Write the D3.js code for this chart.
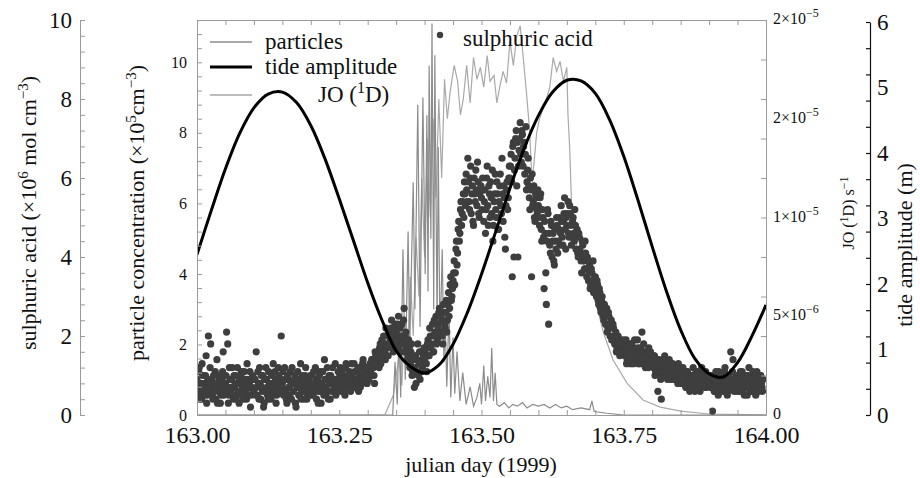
<!DOCTYPE html>
<html>
<head>
<meta charset="utf-8">
<script src="https://cdn.jsdelivr.net/npm/d3@7"></script>
<style>
body { margin: 0; background: #fff; }
svg, svg text { font-family: "Liberation Serif", "Times New Roman", serif; }
</style>
</head>
<body>
<div id="chart"></div>
<script>
// sulphuric acid (x10^6 mol cm^-3), samples every 0.001 day from 163.000,
// split in even samples (163.000, 163.002, ...) and odd samples (163.001, 163.003, ...)
var acidStart = 163, acidStep = 0.002;
var acidEven = [
  0.9,0.5,1.2,0.7,0.4,1.0,0.6,0.8,1.5,0.5,2.0,0.7,1.8,0.9,0.4,0.6,1.1,0.8,0.3,0.7,1.0,0.5,0.9,1.6,0.6,
  0.8,2.1,1.8,0.5,0.9,0.6,1.2,0.4,0.7,1.0,0.5,0.8,0.3,0.6,1.1,0.7,0.4,0.9,0.6,1.3,0.5,0.8,0.2,0.7,1.0,
  0.6,0.9,1.6,0.5,0.8,1.2,0.4,0.7,1.0,0.3,0.6,0.9,0.5,1.1,0.7,0.4,0.8,1.3,0.6,0.9,0.5,0.7,1.0,0.6,2.0,
  0.8,0.5,1.2,0.6,0.3,0.9,0.7,1.1,0.4,0.8,0.6,1.0,0.2,0.7,0.9,0.5,1.3,0.6,0.8,0.4,1.0,0.7,0.5,0.9,0.6,
  0.7,1.0,0.5,0.8,1.2,0.4,0.9,0.6,1.1,0.3,0.8,0.7,1.4,0.5,0.9,0.6,1.0,0.4,0.8,1.2,0.6,0.9,0.5,0.7,1.1,
  0.8,1.2,0.6,0.9,1.0,0.5,1.3,0.7,0.9,1.1,0.6,1.0,0.8,1.3,0.7,1.1,0.9,0.6,1.2,1.0,0.8,1.4,0.9,1.1,1.0,
  1.1,0.9,1.3,1.0,1.4,1.2,0.8,1.5,1.3,1.6,1.2,1.8,1.5,1.7,2.0,1.6,2.2,1.8,1.5,2.1,1.9,2.4,1.7,2.0,2.3,
  2.1,1.8,2.5,2.0,1.6,2.3,1.9,2.7,2.0,1.7,1.4,1.9,1.2,1.6,1.0,1.4,0.7,1.5,1.1,1.8,1.3,0.9,1.6,1.2,1.5,
  1.4,1.7,1.1,1.9,1.5,2.0,1.8,2.3,1.6,2.1,2.5,1.9,2.2,2.7,2.0,2.4,1.8,2.6,2.2,2.9,2.4,3.1,2.7,3.5,3.0,
  3.4,3.9,3.6,4.4,4.1,4.9,4.6,5.4,5.1,5.6,5.9,5.3,5.7,6.5,5.4,6.0,5.1,5.8,4.8,5.6,6.2,5.3,5.9,5.0,5.7,
  5.5,6.0,4.9,5.7,5.2,6.3,4.8,5.6,5.9,5.1,4.4,5.4,6.1,5.0,5.6,4.7,5.8,5.3,6.5,4.9,5.5,4.2,5.7,5.2,6.0,
  6.0,6.6,3.5,6.9,6.2,7.0,5.8,4.0,6.7,7.4,6.4,7.1,6.8,6.1,7.3,5.9,6.5,5.5,6.0,3.5,5.3,5.8,4.9,5.5,5.1,
  5.3,4.8,5.6,4.4,5.0,3.2,4.6,2.8,5.2,2.3,4.3,4.9,4.0,4.6,3.8,4.4,5.0,4.1,4.7,4.3,5.3,4.5,4.9,5.5,4.2,
  4.8,5.4,4.5,5.1,4.3,4.9,4.6,5.2,4.2,4.7,4.0,4.5,4.1,3.6,4.3,3.9,4.4,3.7,4.0,3.4,3.8,3.3,3.6,3.9,3.2,
  3.5,3.0,3.3,2.8,3.1,2.6,3.0,2.5,2.8,2.3,2.7,2.2,2.5,2.0,2.4,1.9,2.2,1.8,2.1,1.7,2.0,1.6,1.9,1.7,1.8,
  1.8,1.5,1.9,1.4,1.7,1.6,1.3,1.8,1.5,1.7,1.4,1.6,1.9,1.3,1.5,1.7,2.1,1.4,1.6,1.2,1.5,1.4,1.7,1.3,1.5,
  1.4,1.2,1.5,1.1,1.3,0.6,1.4,1.0,0.4,1.3,1.2,1.5,1.0,1.3,1.1,1.4,0.9,1.2,1.3,1.0,1.2,0.9,1.1,1.3,1.0,
  1.1,0.8,1.2,0.9,1.0,0.7,1.1,0.9,0.6,1.0,0.8,1.2,0.9,0.7,1.0,0.8,1.1,0.6,0.9,1.0,0.8,0.7,1.1,0.9,0.8,
  0.9,0.7,1.0,0.1,0.8,0.6,1.1,0.9,0.5,0.8,1.0,0.7,0.9,0.6,1.2,0.8,0.5,1.0,0.7,1.6,0.9,1.4,0.6,0.8,1.0,
  0.8,1.0,0.6,0.9,1.1,0.7,0.5,0.9,1.0,0.8,1.2,0.6,0.9,0.7,1.0,0.8,0.5,1.1,0.9,0.7,1.0,0.8,0.6
];
var acidOdd = [
  0.6,1.1,0.4,0.8,1.3,0.7,0.5,1.0,0.3,0.9,0.6,1.2,0.8,0.5,1.0,0.7,0.4,1.4,0.6,0.9,0.3,0.8,1.1,0.5,0.7,
  1.0,0.6,0.3,1.2,0.7,0.9,0.5,1.0,0.8,0.4,1.2,0.6,0.9,1.0,0.5,0.8,1.1,0.6,0.4,0.9,0.7,1.1,0.5,0.9,0.6,
  0.9,0.5,0.7,1.1,0.4,0.8,1.0,0.6,0.2,0.9,1.2,0.7,0.4,0.8,0.6,1.0,0.5,0.7,1.1,0.3,0.8,1.2,0.6,0.9,0.7,
  1.1,0.6,0.9,0.4,1.0,0.7,0.5,0.8,1.2,0.6,0.9,0.3,0.8,1.1,0.5,0.7,0.4,1.0,0.6,0.9,1.2,0.4,0.8,0.6,1.0,
  0.5,0.8,1.1,0.6,0.9,0.7,0.3,1.0,0.8,0.6,1.1,0.5,0.9,0.7,1.2,0.4,0.8,1.0,0.6,0.9,0.7,1.3,0.8,0.6,0.9,
  1.0,0.7,1.1,0.8,0.6,1.2,0.9,0.7,1.0,0.8,1.3,0.9,0.7,1.1,0.9,0.8,1.2,1.0,0.7,1.1,1.3,0.9,1.0,1.2,0.8,
  1.2,1.0,1.1,1.4,1.2,1.0,1.6,1.3,1.5,1.4,1.7,1.3,1.9,1.6,1.8,1.4,2.0,1.7,2.1,1.8,2.2,1.9,1.6,2.2,2.0,
  1.9,2.3,1.7,2.2,2.0,1.8,2.4,1.6,2.1,1.8,1.5,1.7,1.3,1.8,1.1,1.5,1.2,0.8,1.4,1.0,1.6,1.3,1.1,1.4,1.7,
  1.6,1.3,1.8,1.5,2.2,1.7,2.0,1.6,2.4,2.0,1.8,2.3,2.6,2.1,2.5,2.0,2.8,2.3,2.6,2.1,2.8,2.5,3.3,2.9,3.2,
  3.6,3.3,4.2,3.8,4.7,4.4,5.2,4.8,5.4,5.0,5.6,6.1,5.4,5.9,5.2,6.3,5.6,4.9,6.0,5.4,5.7,6.4,5.1,5.6,5.8,
  5.2,5.7,5.4,4.6,6.0,5.3,5.8,5.0,5.5,6.2,4.8,5.6,5.2,5.9,4.7,5.4,6.1,5.1,5.6,5.8,4.5,5.3,5.9,5.5,6.3,
  6.3,5.9,6.8,4.0,6.5,7.2,6.9,6.3,7.0,6.6,7.2,6.3,6.9,6.6,5.7,6.2,5.8,5.2,5.7,6.1,5.4,5.0,5.6,5.2,5.7,
  5.0,5.5,4.7,5.2,4.5,4.9,3.6,4.4,5.1,4.6,4.1,4.8,4.4,3.9,4.7,4.2,4.8,4.4,5.0,4.6,4.9,4.3,5.1,4.7,5.0,
  5.1,4.6,5.3,4.8,4.5,5.0,4.4,4.8,4.5,4.1,4.6,4.2,3.9,4.4,4.0,3.7,4.1,3.5,3.9,3.6,3.2,3.7,3.4,3.1,3.5,
  3.2,3.4,2.9,3.2,2.7,2.9,2.8,2.4,2.6,2.5,2.1,2.6,2.3,2.2,1.9,2.3,2.0,1.9,1.6,2.0,1.8,1.5,1.8,1.6,1.9,
  1.6,1.7,1.3,1.6,1.5,1.8,1.4,1.6,1.3,1.9,1.5,1.4,1.7,1.6,1.3,1.5,1.4,1.8,1.3,1.5,1.6,1.2,1.4,1.6,1.3,
  1.3,1.5,1.0,1.2,1.4,1.1,1.3,0.9,1.2,1.4,1.0,1.1,1.3,0.9,1.2,1.0,1.3,1.1,0.9,1.2,1.0,1.1,0.8,1.2,1.0,
  0.9,1.1,0.8,1.0,0.7,1.1,0.9,0.8,1.0,0.7,1.0,0.9,0.6,1.1,0.8,1.0,0.7,0.9,1.2,0.8,1.0,0.9,0.7,1.0,0.8,
  0.8,1.0,0.7,0.9,0.6,1.0,0.8,0.7,1.1,0.9,0.6,1.0,0.8,1.1,0.7,0.9,0.6,1.0,0.8,0.9,1.1,0.7,0.9,0.8,0.6,
  0.9,0.7,1.1,0.8,0.6,1.0,0.9,0.7,0.5,1.0,0.8,0.9,0.6,1.1,0.8,0.7,1.0,0.9,0.6,0.8,1.0,0.7,0.9
];

// particle concentration (x10^5 cm^-3)
var partDay = [163.000,163.344,163.348,163.352,163.355,163.358,163.362,163.366,163.371,163.374,
  163.380,163.383,163.388,163.392,163.397,163.401,163.404,163.406,163.408,163.411,
  163.413,163.416,163.418,163.422,163.424,163.427,163.431,163.434,163.436,163.439,
  163.443,163.446,163.450,163.453,163.457,163.462,163.467,163.473,163.480,163.486,
  163.492,163.497,163.500,163.504,163.507,163.511,163.515,163.518,163.521,163.524,
  163.527,163.532,163.540,163.548,163.555,163.563,163.572,163.580,163.590,163.600,
  163.610,163.620,163.630,163.640,163.650,163.660,163.675,163.690,163.694,163.698,
  163.720,163.750,164.000];
var partVal = [0,0,1.5,0.3,2.5,0.5,4.7,1.0,5.2,2.0,
  6.6,3.0,8.8,2.5,9.0,4.0,8.5,3.5,9.9,5.0,
  11.1,3.0,10.2,2.5,7.6,2.0,4.7,1.5,2.8,0.8,
  3.0,0.5,2.2,0.6,1.8,0.4,1.2,0.3,0.8,0.25,
  0.5,0.9,0.3,1.4,0.4,1.1,0.5,1.9,0.4,1.2,
  0.3,0.25,0.35,0.2,0.3,0.25,0.35,0.2,0.3,0.25,
  0.3,0.2,0.3,0.2,0.25,0.15,0.2,0.15,0.4,0.1,
  0.05,0,0];

// JO(1D) photolysis rate (x10^-5 s^-1)
var joDay = [163.0,163.33,163.345,163.355,163.36,163.365,163.37,163.375,163.38,163.385,
  163.39,163.395,163.40,163.405,163.41,163.415,163.42,163.425,163.43,163.435,
  163.44,163.445,163.452,163.458,163.463,163.468,163.474,163.48,163.486,163.492,
  163.498,163.504,163.51,163.515,163.522,163.527,163.532,163.538,163.544,163.55,
  163.556,163.562,163.568,163.573,163.58,163.584,163.589,163.593,163.597,163.602,
  163.608,163.614,163.62,163.626,163.632,163.638,163.644,163.65,163.652,163.655,
  163.659,163.664,163.68,163.696,163.714,163.731,163.756,163.784,163.814,163.85,
  163.9,164.0];
var joVal = [0,0,0.1,0.3,0.15,0.5,0.3,0.7,0.4,0.9,
  0.6,1.2,0.8,1.4,1.0,1.5,1.1,1.6,1.2,1.7,
  1.5,1.64,1.77,1.69,1.52,1.6,1.77,1.58,1.81,1.7,
  1.76,1.66,1.82,1.69,1.72,1.58,1.66,1.74,1.68,1.89,
  1.77,1.92,1.97,1.82,1.6,1.46,1.18,1.3,1.43,1.5,
  1.55,1.6,1.66,1.81,1.74,1.79,1.69,1.76,1.52,1.35,
  1.01,0.89,0.76,0.63,0.42,0.28,0.16,0.076,0.04,0.02,
  0.005,0];

// tide amplitude (m), every 0.025 day from 163.000
var tideStart = 163, tideStep = 0.025;
var tideVals = [2.45,3.12,3.76,4.30,4.69,4.90,4.93,4.77,4.42,3.91,
  3.30,2.66,2.02,1.45,0.98,0.74,0.64,0.76,1.08,1.56,
  2.15,2.80,3.46,4.07,4.57,4.93,5.11,5.10,4.91,4.51,
  3.95,3.28,2.57,1.89,1.30,0.86,0.63,0.58,0.80,1.20,1.68];

var dayTicks = [163, 163.25, 163.5, 163.75, 164];
var acidTicks = [0, 2, 4, 6, 8, 10];
var partTicks = [0, 2, 4, 6, 8, 10];
var tideTicks = [0, 1, 2, 3, 4, 5, 6];
var joTicks = [0, 0.5, 1, 1.5, 2];
var joTickLabels = [["0", ""], ["5\u00d710", "\u22126"], ["1\u00d710", "\u22125"], ["2\u00d710", "\u22125"], ["2\u00d710", "\u22125"]];

var FONT = "'Liberation Serif', 'Times New Roman', serif";
var width = 920, height = 478;
var frame = { left: 197, right: 766, top: 20, bottom: 415 };

var svg = d3.select("#chart").append("svg")
    .attr("width", width)
    .attr("height", height);

var x = d3.scaleLinear().domain([163, 164]).range([frame.left, frame.right]);
var yAcid = d3.scaleLinear().domain([0, 10]).range([frame.bottom, frame.top]);
var yPart = d3.scaleLinear().domain([0, 11.2]).range([frame.bottom, frame.top]);
var yJO = d3.scaleLinear().domain([0, 2]).range([frame.bottom, frame.top]);
var yTide = d3.scaleLinear().domain([0, 6]).range([frame.bottom, 22]);

svg.append("clipPath").attr("id", "clip")
  .append("rect")
    .attr("x", frame.left).attr("y", frame.top)
    .attr("width", frame.right - frame.left)
    .attr("height", frame.bottom - frame.top);

var plot = svg.append("g").attr("clip-path", "url(#clip)");

// JO(1D) line
plot.append("path")
    .datum(d3.zip(joDay, joVal))
    .attr("fill", "none")
    .attr("stroke", "#a9a9a9")
    .attr("stroke-width", 1.2)
    .attr("d", d3.line()
        .x(function(d) { return x(d[0]); })
        .y(function(d) { return yJO(d[1]); }));

// particles line
plot.append("path")
    .datum(d3.zip(partDay, partVal))
    .attr("fill", "none")
    .attr("stroke", "#8c8c8c")
    .attr("stroke-width", 1.2)
    .attr("d", d3.line()
        .x(function(d) { return x(d[0]); })
        .y(function(d) { return yPart(d[1]); }));

// sulphuric acid dots
var acidPts = [];
acidEven.forEach(function(v, i) { acidPts.push([acidStart + i * acidStep, v]); });
acidOdd.forEach(function(v, i) { acidPts.push([acidStart + acidStep / 2 + i * acidStep, v]); });

plot.selectAll("circle.acid")
    .data(acidPts)
    .enter().append("circle")
    .attr("class", "acid")
    .attr("cx", function(d) { return x(d[0]); })
    .attr("cy", function(d) { return yAcid(d[1]); })
    .attr("r", 3.6)
    .attr("fill", "#3e3e3e");

// tide line
plot.append("path")
    .datum(tideVals)
    .attr("fill", "none")
    .attr("stroke", "#000")
    .attr("stroke-width", 3)
    .attr("d", d3.line()
        .curve(d3.curveCatmullRom)
        .x(function(d, i) { return x(tideStart + i * tideStep); })
        .y(function(d) { return yTide(d); }));

// frame with inward minor ticks
var frameColor = "#9a9a9a";
function styleAxis(g) {
  g.selectAll("path, line").attr("stroke", frameColor);
  g.selectAll("text").remove();
}
svg.append("g")
    .attr("transform", "translate(0," + frame.bottom + ")")
    .call(d3.axisTop(x).tickValues(d3.range(163, 164.001, 0.05)).tickSize(5).tickSizeOuter(0))
    .call(styleAxis);
svg.append("g")
    .attr("transform", "translate(0," + frame.top + ")")
    .call(d3.axisBottom(x).tickValues(d3.range(163, 164.001, 0.05)).tickSize(5).tickSizeOuter(0))
    .call(styleAxis);
svg.append("g")
    .attr("transform", "translate(" + frame.left + ",0)")
    .call(d3.axisRight(yPart).tickValues(d3.range(0, 11.21, 0.4)).tickSize(5).tickSizeOuter(0))
    .call(styleAxis);
svg.append("g")
    .attr("transform", "translate(" + frame.right + ",0)")
    .call(d3.axisLeft(yJO).tickValues(d3.range(0, 2.01, 0.2)).tickSize(5).tickSizeOuter(0))
    .call(styleAxis);

// sulphuric acid axis on far left
svg.append("g")
    .attr("transform", "translate(80,0)")
    .call(d3.axisRight(yAcid).tickValues(d3.range(0, 10.01, 0.4)).tickSize(5).tickSizeOuter(0))
    .call(styleAxis);

// tide axis on far right
var tideAxis = svg.append("g")
    .attr("transform", "translate(870,0)")
    .call(d3.axisLeft(yTide).tickValues(d3.range(0, 6.01, 0.4)).tickSize(4).tickSizeOuter(0));
tideAxis.selectAll("path, line").attr("stroke", "#111").attr("stroke-width", 1.2);
tideAxis.selectAll("text").remove();

// tick labels
function labelAxis(axis, pos, size) {
  svg.append("g")
      .attr("transform", pos)
      .call(axis.tickSize(0))
      .call(function(g) {
        g.attr("font-family", FONT);
        g.select(".domain").remove();
        g.selectAll("text")
            .style("font-family", FONT)
            .attr("font-size", size)
            .attr("fill", "#111");
      });
}
labelAxis(d3.axisBottom(x).tickValues(dayTicks).tickFormat(d3.format(".2f")).tickPadding(11),
  "translate(0," + frame.bottom + ")", 24);
labelAxis(d3.axisLeft(yAcid).tickValues(acidTicks).tickFormat(d3.format("d")).tickPadding(8), "translate(80,0)", 23);
labelAxis(d3.axisLeft(yPart).tickValues(partTicks).tickFormat(d3.format("d")).tickPadding(10), "translate(" + frame.left + ",0)", 16);
labelAxis(d3.axisRight(yTide).tickValues(tideTicks).tickFormat(d3.format("d")).tickPadding(7), "translate(870,0)", 23);

// JO tick labels with exponents
joTicks.forEach(function(v, i) {
  var t = svg.append("text")
      .attr("x", frame.right + 7)
      .attr("y", yJO(v) + 4)
      .style("font-family", FONT)
      .attr("font-size", 16)
      .attr("fill", "#111");
  t.append("tspan").text(joTickLabels[i][0]);
  if (joTickLabels[i][1]) {
    t.append("tspan").attr("dy", -7).attr("font-size", 12).text(joTickLabels[i][1]);
  }
});

// text with superscripts: parts = [[text, isSup]]
function richText(sel, parts, supSize, shift) {
  var up = false;
  parts.forEach(function(p) {
    var ts = sel.append("tspan").text(p[0]);
    if (p[1] && !up) { ts.attr("dy", -shift).attr("font-size", supSize); up = true; }
    else if (p[1]) { ts.attr("font-size", supSize); }
    else if (up) { ts.attr("dy", shift); up = false; }
  });
}

function vTitle(cx, cy, size, parts, supSize, shift) {
  var t = svg.append("text")
      .attr("transform", "translate(" + cx + "," + cy + ") rotate(-90)")
      .attr("text-anchor", "middle")
      .style("font-family", FONT)
      .attr("font-size", size)
      .attr("fill", "#111");
  richText(t, parts, supSize, shift);
}

vTitle(36, 213, 22, [["sulphuric acid (\u00d710", 0], ["6", 1], [" mol cm", 0], ["\u22123", 1], [")", 0]], 15, 8);
vTitle(144, 213, 22, [["particle concentration (\u00d710", 0], ["5", 1], ["cm", 0], ["\u22123", 1], [")", 0]], 15, 8);
vTitle(854, 213, 16, [["JO (", 0], ["1", 1], ["D) s", 0], ["\u22121", 1]], 12, 6);
vTitle(912, 245, 22, [["tide amplitude (m)", 0]], 15, 8);

svg.append("text")
    .attr("x", 481)
    .attr("y", 472)
    .attr("text-anchor", "middle")
    .style("font-family", FONT)
    .attr("font-size", 22)
    .attr("fill", "#111")
    .text("julian day (1999)");

// legend
var legendRows = [
  { label: [["particles", 0]], color: "#8c8c8c", w: 1.5, y: 42, tx: 265 },
  { label: [["tide amplitude", 0]], color: "#000", w: 3, y: 67, tx: 265 },
  { label: [["JO (", 0], ["1", 1], ["D)", 0]], color: "#a9a9a9", w: 1.5, y: 95, tx: 318 }
];
legendRows.forEach(function(r) {
  svg.append("line")
      .attr("x1", 210).attr("x2", 252)
      .attr("y1", r.y).attr("y2", r.y)
      .attr("stroke", r.color)
      .attr("stroke-width", r.w);
  var t = svg.append("text")
      .attr("x", r.tx)
      .attr("y", r.y + 7)
      .style("font-family", FONT)
      .attr("font-size", 23)
      .attr("fill", "#111");
  richText(t, r.label, 16, 9);
});

svg.append("circle")
    .attr("cx", 440).attr("cy", 35).attr("r", 3.2)
    .attr("fill", "#3e3e3e");
svg.append("text")
    .attr("x", 463).attr("y", 46)
    .style("font-family", FONT)
    .attr("font-size", 23)
    .attr("fill", "#111")
    .text("sulphuric acid");
</script>
</body>
</html>
